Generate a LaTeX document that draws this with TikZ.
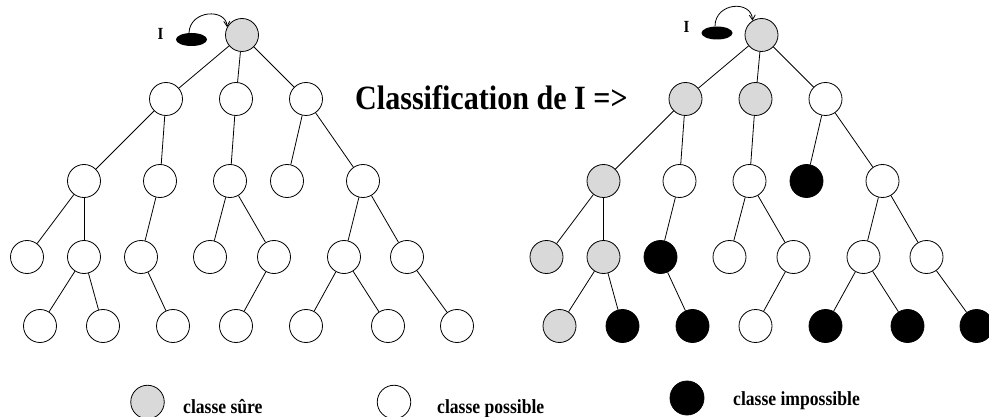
\documentclass[tikz,border=0pt]{standalone}
\usepackage{fontspec}
\setmainfont{Liberation Serif}
\newfontfamily\condf{Liberation Serif}[FakeStretch=0.88]
\newfontfamily\titlef{Liberation Serif}[FakeStretch=0.885]
\usetikzlibrary{arrows.meta,calc,shapes.geometric}
\definecolor{sureg}{RGB}{217,217,217}
\tikzset{
  cl/.style={circle, draw=black, line width=0.8pt, minimum size=33pt, inner sep=0pt},
  sure/.style={cl, fill=sureg},
  poss/.style={cl, fill=white},
  imp/.style={cl, fill=black},
  lnk/.style={line width=0.8pt},
  tok/.style={ellipse, fill=black, minimum width=31pt, minimum height=13pt, inner sep=0pt},
  toklabel/.style={anchor=base, inner sep=0pt, font=\condf\bfseries\fontsize{17}{20}\selectfont},
  legtext/.style={anchor=base west, inner sep=0pt, font=\condf\bfseries\fontsize{20}{24}\selectfont},
  hop/.style={line width=0.8pt, -{Straight Barb[length=5pt,width=6pt]}}
}
\begin{document}
\begin{tikzpicture}[x=1pt,y=-1pt]
\useasboundingbox[fill=white] (0,0) rectangle (989,417);
% left tree
\foreach \n/\x/\y/\s in {a0/242/35/sure,
  a1/166/99/poss, a2/236/99/poss, a3/306/99/poss,
  b1/84/181/poss, b2/160/181/poss, b3/230/181/poss, b4/287/181/poss, b5/363/181/poss,
  c1/27/257/poss, c2/84/257/poss, c3/141/257/poss, c4/210/257/poss, c5/274/257/poss, c6/344/257/poss, c7/407/257/poss,
  d1/40/326/poss, d2/103/326/poss, d3/173/326/poss, d4/236/326/poss, d5/306/326/poss, d6/388/326/poss, d7/457/326/poss}
  \node[\s] (L\n) at (\x,\y) {};
% right tree
\foreach \n/\x/\y/\s in {a0/242/35/sure,
  a1/166/99/sure, a2/236/99/sure, a3/306/99/poss,
  b1/84/181/sure, b2/160/181/poss, b3/230/181/poss, b4/287/181/imp, b5/363/181/poss,
  c1/27/257/sure, c2/84/257/sure, c3/141/257/imp, c4/210/257/poss, c5/274/257/poss, c6/344/257/poss, c7/407/257/poss,
  d1/40/326/sure, d2/103/326/imp, d3/173/326/imp, d4/236/326/poss, d5/306/326/imp, d6/388/326/imp, d7/457/326/imp}
  \node[\s] (R\n) at (\x+519.5,\y) {};
% edges
\foreach \p in {L,R}
  \foreach \u/\v in {a0/a1,a0/a2,a0/a3,a1/b1,a1/b2,a2/b3,a3/b4,a3/b5,
    b1/c1,b1/c2,b2/c3,b3/c4,b3/c5,b5/c6,b5/c7,
    c2/d1,c2/d2,c3/d3,c5/d4,c6/d5,c6/d6,c7/d7}
    \draw[lnk] (\p\u) -- (\p\v);
% tokens I
\node[tok] (eL) at (191.5,39.5) {};
\node[toklabel] (iL) at (160.5,40) {I};
\draw[hop] ($(eL.north)+(-2.5,0)$) .. controls ($(eL.north)+(-1.5,-23)$) and ($(La0.152)+(-1,-19)$) .. (La0.152);
\node[tok] (eR) at (717,33) {};
\node[toklabel] (iR) at (686.5,33) {I};
\draw[hop] ($(eR.north)+(-2,0)$) .. controls ($(eR.north)+(-2,-24)$) and ($(Ra0.122)+(-1,-21)$) .. (Ra0.122);
% title
\node[anchor=base west, inner sep=0pt, font=\titlef\bfseries\fontsize{34}{40}\selectfont] (title) at (355,110) {Classification de I =>};
% legend
\node[sure, minimum size=33.5pt] (lg1) at (147.5,402) {};
\node[legtext] (t1) at (183,413) {classe sûre};
\node[poss, minimum size=33.5pt] (lg2) at (394,402) {};
\node[legtext] (t2) at (437,413) {classe possible};
\node[imp, minimum size=34pt] (lg3) at (687,398) {};
\node[legtext] (t3) at (733,405) {classe impossible};
\end{tikzpicture}
\end{document}
